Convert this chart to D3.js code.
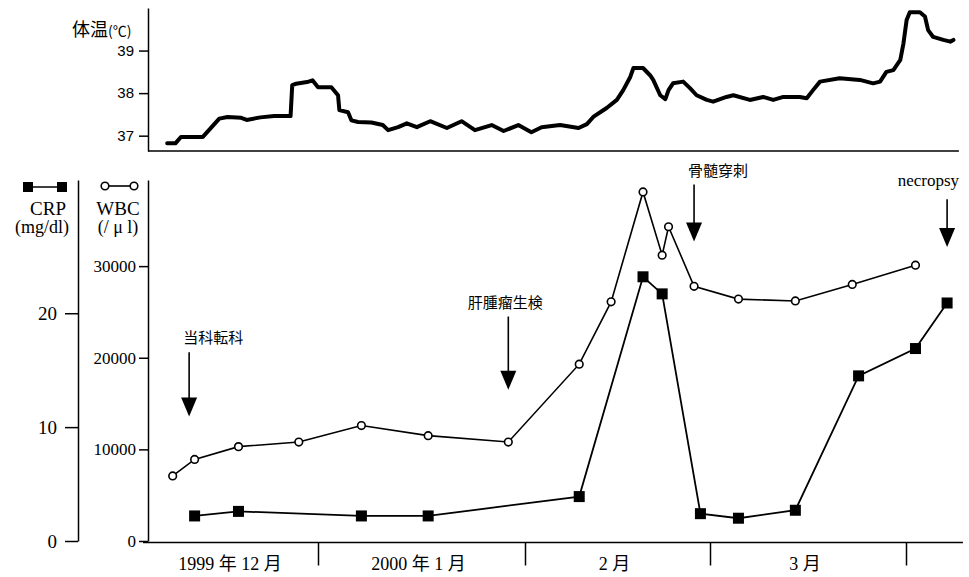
<!DOCTYPE html>
<html>
<head>
<meta charset="utf-8" />
<script src="https://d3js.org/d3.v7.min.js"></script>
<title>体温 CRP WBC</title>
<style>
  body { margin: 0; background: #fff; }
  svg text { fill: #000; }
  .serif { font-family: "Liberation Serif", "DejaVu Serif", "Noto Sans CJK JP", serif; }
  .sans { font-family: "Liberation Sans", "Noto Sans CJK JP", sans-serif; }
  .jp { font-family: "Noto Sans CJK JP", sans-serif; }
  .axis path, .axis line { stroke: #000; stroke-width: 1.5px; }
</style>
</head>
<body>
<svg id="chart" width="969" height="577"></svg>
<script>

// month boundaries of the x axis and their labels
var monthStarts = ["1999-12-01", "2000-01-01", "2000-02-01", "2000-03-01", "2000-04-01"];
var monthLabels = ["1999 年 12 月", "2000 年 1 月", "2 月", "3 月"];

// WBC (/μl)
var wbcDates = ["1999-12-05", "1999-12-09", "1999-12-17", "1999-12-28", "2000-01-07", "2000-01-17",
  "2000-01-29", "2000-02-09", "2000-02-14", "2000-02-19", "2000-02-22", "2000-02-23",
  "2000-02-27", "2000-03-05", "2000-03-14", "2000-03-23", "2000-04-02"];
var wbcValues = [7100, 8900, 10300, 10800, 12600, 11500, 10800, 19300, 26100, 38100, 31200, 34300,
  27800, 26400, 26200, 28000, 30100];

// CRP (mg/dl)
var crpDates = ["1999-12-09", "1999-12-17", "2000-01-07", "2000-01-17", "2000-02-09", "2000-02-19",
  "2000-02-22", "2000-02-28", "2000-03-05", "2000-03-14", "2000-03-24", "2000-04-02", "2000-04-07"];
var crpValues = [2.2, 2.6, 2.2, 2.2, 3.9, 23.2, 21.7, 2.4, 2.0, 2.7, 14.5, 16.9, 20.9];

// body temperature, days counted from 1999-12-01
var tempDays = [3.5, 5, 6, 10, 13, 14.5, 17, 18, 20.5, 23, 26, 26.3, 27, 29, 30, 31, 33, 34, 34.2, 35.5,
  36, 37, 39, 40.7, 41.5, 43, 44.3, 45.8, 47.8, 50.3, 52.5, 54.5, 57, 58.8, 61, 63, 64.6, 67.5, 70.4,
  71.7, 72.7, 74.8, 76.4, 77.4, 78.5, 79, 80.5, 81.6, 82.1, 83.2, 84, 84.5, 85.2, 86.8, 87.9, 88.9,
  90.5, 91.5, 93.6, 94.7, 97.3, 99.4, 101, 102.6, 105.2, 106.3, 107.3, 108.4, 111.5, 114.7, 116.8,
  117.9, 118.9, 120, 121.1, 121.6, 122.1, 122.6, 124.2, 125, 125.5, 126.3, 127.9, 129, 129.5];
var tempValues = [36.82, 36.82, 36.97, 36.97, 37.40, 37.44, 37.42, 37.37, 37.43, 37.46, 37.46, 38.19,
  38.22, 38.26, 38.30, 38.14, 38.14, 37.95, 37.60, 37.55, 37.36, 37.32, 37.31, 37.25, 37.13, 37.20,
  37.29, 37.20, 37.34, 37.18, 37.34, 37.13, 37.25, 37.11, 37.25, 37.08, 37.20, 37.25, 37.18, 37.27,
  37.44, 37.65, 37.84, 38.07, 38.38, 38.59, 38.59, 38.42, 38.31, 37.95, 37.86, 38.07, 38.23, 38.27,
  38.11, 37.95, 37.84, 37.80, 37.91, 37.95, 37.84, 37.91, 37.84, 37.91, 37.91, 37.88, 38.07, 38.27,
  38.35, 38.31, 38.23, 38.27, 38.50, 38.54, 38.78, 39.17, 39.72, 39.90, 39.90, 39.80, 39.48, 39.32,
  39.25, 39.21, 39.25];

// events marked with arrows
var eventLabels = ["当科転科", "肝腫瘤生検", "骨髄穿刺", "necropsy"];
var eventDates = ["1999-12-08", "2000-01-29", "2000-02-27", "2000-04-07"];

var svg = d3.select("#chart");
var parse = d3.timeParse("%Y-%m-%d");
function noon(s) { return d3.timeHour.offset(parse(s), 12); }
var base = parse(monthStarts[0]);
function fromDays(n) { return new Date(+base + n * 864e5); }

// piecewise time scale, months are not drawn with equal widths
var x = d3.scaleTime()
  .domain(monthStarts.map(parse))
  .range([148, 318, 525, 710, 906]);
var xEnd = x(parse("2000-04-10"));

var yTemp = d3.scaleLinear().domain([36.64, 40.0]).range([151, 8]);
var yCrp = d3.scaleLinear().domain([0, 31.7]).range([541, 180]);
var yWbc = d3.scaleLinear().domain([0, 39400]).range([541, 180]);

// ---------- top: body temperature ----------
var tAxis = svg.append("g")
  .attr("class", "axis")
  .attr("transform", "translate(" + x.range()[0] + ",0)")
  .call(d3.axisLeft(yTemp).tickValues([37, 38, 39]).tickFormat(d3.format("d"))
    .tickSize(9).tickSizeOuter(0).tickPadding(5));
tAxis.selectAll("text").attr("class", "sans").style("font-size", "15px");

svg.append("line")
  .attr("x1", x.range()[0]).attr("x2", xEnd - 4)
  .attr("y1", yTemp.range()[0]).attr("y2", yTemp.range()[0])
  .attr("stroke", "#000").attr("stroke-width", 1.5);

var tempLine = d3.line()
  .x(function(d, i) { return x(fromDays(tempDays[i])); })
  .y(function(d) { return yTemp(d); });

svg.append("path")
  .datum(tempValues)
  .attr("d", tempLine)
  .attr("fill", "none")
  .attr("stroke", "#000")
  .attr("stroke-width", 4)
  .attr("stroke-linejoin", "round")
  .attr("stroke-linecap", "round");

var tTitle = svg.append("text").attr("class", "jp").attr("x", 72).attr("y", 36);
tTitle.append("tspan").style("font-size", "18px").text("体温");
tTitle.append("tspan").style("font-size", "14px").text("(℃)");

// ---------- bottom: CRP & WBC ----------
var crpAxis = svg.append("g")
  .attr("class", "axis")
  .attr("transform", "translate(78,0)")
  .call(d3.axisLeft(yCrp).tickValues([0, 10, 20]).tickFormat(d3.format("d"))
    .tickSize(13).tickSizeOuter(0).tickPadding(8));
crpAxis.selectAll("text").attr("class", "serif").style("font-size", "19px");

var wbcAxis = svg.append("g")
  .attr("class", "axis")
  .attr("transform", "translate(" + x.range()[0] + ",0)")
  .call(d3.axisLeft(yWbc).tickValues([0, 10000, 20000, 30000]).tickFormat(d3.format("d"))
    .tickSize(9).tickSizeOuter(0).tickPadding(3));
wbcAxis.selectAll("text").attr("class", "serif").style("font-size", "17px");

// x axis with month separators
var xAxis = svg.append("g")
  .attr("class", "axis")
  .attr("transform", "translate(0," + (yWbc.range()[0] + 1.5) + ")")
  .call(d3.axisBottom(x).tickValues(monthStarts.slice(1).map(parse)).tickSize(23).tickFormat(""));
xAxis.select(".domain").remove();
xAxis.append("line")
  .attr("x1", x.range()[0] - 5).attr("x2", xEnd)
  .attr("stroke", "#000").attr("stroke-width", 1.5);

svg.selectAll(".month-label")
  .data(monthLabels)
  .enter().append("text")
  .attr("class", "month-label serif")
  .attr("x", function(d, i) { return (x(parse(monthStarts[i])) + x(parse(monthStarts[i + 1]))) / 2 - 3; })
  .attr("y", 570)
  .attr("text-anchor", "middle")
  .style("font-size", "18px")
  .text(function(d) { return d; });

// WBC line + open circles
var wbcLine = d3.line()
  .x(function(d, i) { return x(noon(wbcDates[i])); })
  .y(function(d) { return yWbc(d); });

svg.append("path")
  .datum(wbcValues)
  .attr("d", wbcLine)
  .attr("fill", "none")
  .attr("stroke", "#000")
  .attr("stroke-width", 1.6);

svg.selectAll(".wbc")
  .data(wbcValues)
  .enter().append("circle")
  .attr("class", "wbc")
  .attr("cx", function(d, i) { return x(noon(wbcDates[i])); })
  .attr("cy", function(d) { return yWbc(d); })
  .attr("r", 3.8)
  .attr("fill", "#fff")
  .attr("stroke", "#000")
  .attr("stroke-width", 1.6);

// CRP line + filled squares
var crpLine = d3.line()
  .x(function(d, i) { return x(noon(crpDates[i])); })
  .y(function(d) { return yCrp(d); });

svg.append("path")
  .datum(crpValues)
  .attr("d", crpLine)
  .attr("fill", "none")
  .attr("stroke", "#000")
  .attr("stroke-width", 1.8);

var sq = 11;
svg.selectAll(".crp")
  .data(crpValues)
  .enter().append("rect")
  .attr("class", "crp")
  .attr("x", function(d, i) { return x(noon(crpDates[i])) - sq / 2; })
  .attr("y", function(d) { return yCrp(d) - sq / 2; })
  .attr("width", sq)
  .attr("height", sq)
  .attr("fill", "#000");

// legends above the two left axes
var lg = svg.append("g");
lg.append("line").attr("x1", 28).attr("x2", 62).attr("y1", 187).attr("y2", 187)
  .attr("stroke", "#000").attr("stroke-width", 1.6);
[28, 62].forEach(function(cx) {
  lg.append("rect").attr("x", cx - 5).attr("y", 182).attr("width", 10).attr("height", 10).attr("fill", "#000");
});
lg.append("line").attr("x1", 105).attr("x2", 134).attr("y1", 186).attr("y2", 186)
  .attr("stroke", "#000").attr("stroke-width", 1.6);
[105, 134].forEach(function(cx) {
  lg.append("circle").attr("cx", cx).attr("cy", 186).attr("r", 3.8)
    .attr("fill", "#fff").attr("stroke", "#000").attr("stroke-width", 1.6);
});
lg.append("text").attr("class", "serif").attr("x", 48).attr("y", 215).attr("text-anchor", "middle")
  .style("font-size", "19px").text("CRP");
lg.append("text").attr("class", "serif").attr("x", 42).attr("y", 233).attr("text-anchor", "middle")
  .style("font-size", "18px").text("(mg/dl)");
lg.append("text").attr("class", "serif").attr("x", 118).attr("y", 215).attr("text-anchor", "middle")
  .style("font-size", "19px").text("WBC");
lg.append("text").attr("class", "serif").attr("x", 118).attr("y", 233).attr("text-anchor", "middle")
  .style("font-size", "18px").text("(/ μ l)");

// event arrows; top and tip given on the WBC scale
var arrowTop = [20600, 24500, 38900, 37300];
var arrowTip = [13600, 16500, 32700, 32100];
var labelDx = [-6, -3, -6, 12];
var labelAnchor = ["start", "middle", "start", "end"];

eventLabels.forEach(function(lbl, i) {
  var ax = x(noon(eventDates[i]));
  var top = yWbc(arrowTop[i]);
  var tip = yWbc(arrowTip[i]);
  svg.append("line")
    .attr("x1", ax).attr("x2", ax)
    .attr("y1", top).attr("y2", tip - 18)
    .attr("stroke", "#000").attr("stroke-width", 1.6);
  svg.append("path")
    .attr("d", "M" + (ax - 8) + "," + (tip - 19) + "L" + (ax + 8) + "," + (tip - 19) + "L" + ax + "," + tip + "Z")
    .attr("fill", "#000");
  svg.append("text")
    .attr("class", i === 3 ? "serif" : "jp")
    .attr("x", ax + labelDx[i])
    .attr("y", top - (i === 3 ? 13 : 9))
    .attr("text-anchor", labelAnchor[i])
    .style("font-size", i === 3 ? "17px" : "15px")
    .text(lbl);
});

</script>
</body>
</html>
